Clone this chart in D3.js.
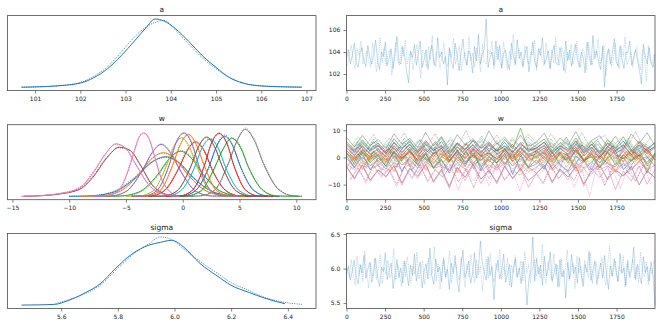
<!DOCTYPE html>
<meta charset="utf-8">
<title>Trace plot</title>
<style>
body { margin: 0; background: #fff; }
text { font-family: "DejaVu Sans", sans-serif; fill: #1a1a1a; }
.title { font-size: 7.5px; }
.axis text { font-size: 6px; font-family: "DejaVu Sans", sans-serif; fill: #1a1a1a; }
.axis line { stroke: #4d4d4d; stroke-width: 0.7; }
</style>
<svg width="660" height="327"></svg>
<script src="https://cdn.jsdelivr.net/npm/d3@7"></script>
<script>

var tab10 = ["#1f77b4", "#ff7f0e", "#2ca02c", "#d62728", "#9467bd",
             "#8c564b", "#e377c2", "#7f7f7f", "#bcbd22", "#17becf"];

// ---- posterior densities ----
var aGrid  = [100.7, 101.0, 101.5, 102.0, 102.3, 102.6, 102.9, 103.2, 103.45, 103.65, 103.85, 104.1, 104.4, 104.7, 105.0, 105.3, 105.6, 106.0, 106.5, 106.9];
var aDens1 = [0, 0.004, 0.02, 0.06, 0.14, 0.27, 0.46, 0.68, 0.87, 1.0, 0.97, 0.86, 0.67, 0.46, 0.29, 0.14, 0.06, 0.018, 0.005, 0];
var aDens2 = [0, 0.004, 0.02, 0.07, 0.16, 0.30, 0.51, 0.74, 0.88, 0.95, 0.98, 0.84, 0.63, 0.43, 0.27, 0.14, 0.06, 0.02, 0.005, 0];

var sigmaGrid  = [5.46, 5.52, 5.58, 5.62, 5.68, 5.74, 5.79, 5.85, 5.91, 5.95, 5.99, 6.03, 6.09, 6.15, 6.20, 6.26, 6.32, 6.39, 6.45];
var sigmaDens1 = [0, 0.003, 0.012, 0.06, 0.17, 0.32, 0.53, 0.75, 0.88, 0.92, 0.95, 0.86, 0.61, 0.43, 0.29, 0.19, 0.10, 0.02, null];
var sigmaDens2 = [null, null, 0.02, 0.07, 0.16, 0.30, 0.50, 0.73, 0.90, 1.0, 0.96, 0.83, 0.64, 0.47, 0.33, 0.22, 0.11, 0.04, 0.01];

// w: one x list per component, density of chain 1 (solid) and chain 2 (dotted)
var wKdeX = [
  [-10, -8.5, -6.3, -4.1, -2.8, -1.5, -0.3, 0.9, 2.9, 4.9, 6.5],
  [-9, -7.5, -5.7, -3.9, -2.8, -1.7, -0.6, 0.5, 2.3, 4.1, 5.5],
  [-7.5, -5.6, -3.9, -2.2, -1.2, -0.2, 0.8, 1.8, 3.5, 5.2, 6.5],
  [-4.5, -2.9, -1.7, -0.4, 0.4, 1.1, 1.9, 2.6, 3.9, 5.1, 6.5],
  [-8, -6.4, -5.0, -3.6, -2.7, -1.9, -1.1, -0.2, 1.2, 2.6, 4],
  [-14, -12.5, -11, -9.1, -7.9, -6.7, -5.6, -4.6, -3.8, -2.7, -1.8, -0.8, 0],
  [-8.0, -6.6, -5.6, -4.9, -4.3, -3.8, -3.45, -3.0, -2.5, -1.9, -1.2, -0.4, 1.0],
  [0, 1.5, 2.8, 4.0, 4.8, 5.5, 6.3, 7.1, 8.5, 9.8, 10.5],
  [-5, -3.8, -2.6, -1.5, -0.8, -0.1, 0.6, 1.3, 2.4, 3.6, 5],
  [-2.5, -1.4, -0.2, 1.0, 1.7, 2.4, 3.1, 3.8, 5.0, 6.2, 7.5],
  [-1.5, -0.1, 1.1, 2.3, 3.0, 3.7, 4.4, 5.1, 6.3, 7.5, 8.5],
  [-4.5, -3.2, -2.0, -0.9, -0.2, 0.5, 1.2, 1.9, 3.0, 4.2, 5.5],
  [-1, 0.3, 1.6, 2.8, 3.6, 4.3, 5.1, 5.8, 7.1, 8.3, 10.2],
  [-1.5, -0.3, 0.8, 1.9, 2.5, 3.2, 3.9, 4.5, 5.6, 6.7, 8],
  [-4.5, -3.4, -2.3, -1.2, -0.6, 0.1, 0.8, 1.4, 2.5, 3.6, 5],
  [-3, -1.7, -0.5, 0.7, 1.4, 2.1, 2.8, 3.5, 4.7, 5.9, 7.5],
  [-14.2, -12.5, -11, -9.1, -7.9, -6.8, -5.9, -5.0, -4.1, -2.9, -2.0, -1.0, -0.3]
];
var wKdeY1 = [
  [0, 0.003, 0.05, 0.28, 0.49, 0.58, 0.49, 0.28, 0.05, 0.003, 0],
  [0, 0.003, 0.06, 0.31, 0.54, 0.64, 0.54, 0.31, 0.06, 0.003, 0],
  [0, 0.003, 0.06, 0.32, 0.55, 0.66, 0.55, 0.32, 0.06, 0.003, 0],
  [0, 0.004, 0.07, 0.39, 0.67, 0.80, 0.67, 0.39, 0.07, 0.004, 0],
  [0, 0.004, 0.07, 0.37, 0.64, 0.76, 0.64, 0.37, 0.07, 0.004, 0],
  [0, 0.008, 0.03, 0.10, 0.28, 0.56, 0.72, 0.67, 0.48, 0.17, 0.05, 0.008, 0],
  [0, 0.01, 0.09, 0.33, 0.64, 0.88, 0.93, 0.86, 0.60, 0.27, 0.08, 0.01, 0],
  [0, 0.005, 0.09, 0.48, 0.82, 0.98, 0.82, 0.48, 0.09, 0.005, 0],
  [0, 0.004, 0.08, 0.42, 0.72, 0.86, 0.72, 0.42, 0.08, 0.004, 0],
  [0, 0.004, 0.08, 0.41, 0.71, 0.84, 0.71, 0.41, 0.08, 0.004, 0],
  [0, 0.004, 0.08, 0.43, 0.74, 0.88, 0.74, 0.43, 0.08, 0.004, 0],
  [0, 0.005, 0.08, 0.45, 0.76, 0.91, 0.76, 0.45, 0.08, 0.005, 0],
  [0, 0.004, 0.08, 0.42, 0.71, 0.85, 0.71, 0.42, 0.08, 0.004, 0],
  [0, 0.005, 0.08, 0.45, 0.77, 0.92, 0.77, 0.45, 0.08, 0.005, 0],
  [0, 0.005, 0.08, 0.46, 0.78, 0.93, 0.78, 0.46, 0.08, 0.005, 0],
  [0, 0.004, 0.08, 0.43, 0.73, 0.87, 0.73, 0.43, 0.08, 0.004, 0],
  [0, 0.01, 0.035, 0.12, 0.34, 0.62, 0.77, 0.70, 0.46, 0.15, 0.05, 0.008, 0]
];
var wKdeY2 = [
  [0, 0.004, 0.06, 0.30, 0.50, 0.57, 0.48, 0.27, 0.05, 0.004, 0],
  [0, 0.004, 0.07, 0.33, 0.55, 0.63, 0.52, 0.30, 0.06, 0.003, 0],
  [0, 0.003, 0.05, 0.30, 0.54, 0.67, 0.57, 0.33, 0.06, 0.003, 0],
  [0, 0.004, 0.08, 0.41, 0.69, 0.79, 0.65, 0.38, 0.07, 0.004, 0],
  [0, 0.004, 0.07, 0.36, 0.63, 0.77, 0.66, 0.38, 0.07, 0.004, 0],
  [0, 0.01, 0.035, 0.11, 0.30, 0.57, 0.71, 0.66, 0.47, 0.16, 0.05, 0.008, 0],
  [0, 0.01, 0.10, 0.35, 0.66, 0.89, 0.92, 0.84, 0.58, 0.26, 0.08, 0.01, 0],
  [0, 0.005, 0.08, 0.46, 0.82, 1.00, 0.84, 0.50, 0.10, 0.006, 0],
  [0, 0.004, 0.08, 0.43, 0.74, 0.85, 0.70, 0.41, 0.08, 0.004, 0],
  [0, 0.004, 0.08, 0.40, 0.70, 0.85, 0.72, 0.42, 0.08, 0.004, 0],
  [0, 0.004, 0.08, 0.42, 0.75, 0.90, 0.75, 0.42, 0.08, 0.004, 0],
  [0, 0.005, 0.09, 0.46, 0.78, 0.90, 0.74, 0.44, 0.08, 0.005, 0],
  [0, 0.004, 0.07, 0.41, 0.70, 0.86, 0.73, 0.43, 0.09, 0.005, 0],
  [0, 0.005, 0.08, 0.44, 0.76, 0.93, 0.78, 0.46, 0.08, 0.005, 0],
  [0, 0.005, 0.08, 0.45, 0.79, 0.92, 0.76, 0.45, 0.08, 0.005, 0],
  [0, 0.004, 0.08, 0.44, 0.74, 0.86, 0.72, 0.43, 0.08, 0.004, 0],
  [0, 0.012, 0.04, 0.13, 0.36, 0.63, 0.76, 0.69, 0.45, 0.15, 0.05, 0.008, 0]
];

var nDraws = 2000;

var aTrace1 = [
  103.4, 104.2, 102.9, 103.7, 104.8, 103.0, 102.6, 103.9, 104.4, 103.2,
  102.7, 104.6, 103.5, 102.9, 103.8, 105.1, 103.3, 102.4, 104.0, 103.6,
  104.9, 102.8, 103.4, 104.3, 102.5, 103.7, 105.4, 103.1, 102.9, 104.5,
  103.6, 102.2, 101.2, 104.1, 103.5, 104.7, 102.8, 103.9, 105.0, 102.6,
  103.3, 104.2, 102.4, 103.8, 104.6, 103.0, 102.7, 105.3, 103.5, 104.0,
  102.9, 103.6, 101.0, 104.4, 103.1, 102.5, 104.8, 103.7, 102.3, 103.9,
  105.2, 103.4, 102.8, 104.1, 103.6, 102.1, 104.5, 103.2, 105.6, 102.9,
  103.8, 104.3, 107.0, 102.6, 103.5, 104.0, 102.8, 105.0, 103.3, 104.6,
  102.5, 103.9, 104.2, 103.0, 102.4, 104.8, 103.6, 102.9, 105.1, 103.4,
  104.0, 102.7, 103.8, 104.5, 102.2, 103.5, 104.9, 103.1, 102.6, 104.3,
  103.7, 105.3, 102.9, 103.4, 104.1, 102.5, 103.9, 104.6, 103.0, 102.8,
  104.4, 103.6, 102.3, 105.0, 103.2, 104.2, 102.7, 103.8, 104.7, 103.3,
  102.6, 104.0, 103.5, 102.1, 104.9, 103.7, 102.8, 105.5, 103.4, 104.1,
  103.0, 102.4, 104.5, 100.8, 103.6, 104.3, 102.9, 103.8, 105.2, 103.1,
  102.7, 104.6, 103.3, 102.5, 104.0, 103.9, 105.0, 102.8, 103.5, 104.2,
  103.2, 102.3, 101.1, 104.7, 103.6, 102.9, 104.4, 103.0, 102.6, 103.8];
var aTrace2 = [
  102.8, 103.9, 104.6, 103.1, 102.5, 104.3, 103.7, 105.0, 102.9, 103.5,
  104.1, 103.3, 102.6, 104.8, 103.9, 102.2, 103.6, 105.3, 103.0, 104.4,
  102.7, 103.8, 104.2, 101.9, 103.4, 104.9, 103.2, 102.8, 104.5, 103.6,
  105.1, 102.9, 103.7, 104.0, 102.4, 103.5, 104.7, 103.1, 101.6, 104.2,
  103.8, 102.6, 104.5, 103.3, 105.5, 102.8, 103.9, 104.1, 102.5, 103.6,
  104.8, 103.0, 102.7, 104.3, 103.5, 105.2, 102.9, 103.7, 104.6, 102.3,
  103.4, 104.0, 102.8, 105.4, 103.2, 103.9, 102.6, 104.4, 103.6, 102.2,
  104.7, 103.1, 102.9, 104.2, 103.8, 105.0, 102.5, 103.4, 104.5, 103.0,
  102.7, 104.9, 103.6, 102.4, 104.1, 103.3, 105.6, 102.8, 103.9, 104.3,
  103.1, 102.6, 104.6, 103.5, 102.9, 104.0, 103.7, 105.1, 102.3, 103.8,
  104.4, 103.2, 102.7, 104.8, 103.6, 102.5, 104.2, 103.0, 105.3, 103.4,
  102.8, 104.5, 103.9, 102.1, 104.0, 103.3, 104.7, 102.9, 103.6, 105.0,
  103.2, 102.6, 104.3, 103.8, 102.4, 104.9, 103.5, 102.8, 104.1, 103.7,
  105.2, 102.9, 103.4, 104.6, 101.8, 103.9, 104.2, 102.7, 103.5, 104.8,
  103.0, 102.5, 104.4, 103.6, 105.4, 102.8, 103.3, 104.0, 102.6, 103.9,
  104.5, 103.1, 102.4, 104.2, 103.7, 101.3, 104.6, 103.2, 102.9, 103.8];

var sigmaTrace1 = [
  5.91, 6.04, 5.83, 5.97, 6.12, 5.88, 5.78, 6.06, 5.94, 6.19,
  5.86, 5.99, 6.09, 5.80, 5.93, 6.15, 5.89, 5.74, 6.02, 5.96,
  6.23, 5.84, 5.97, 6.08, 5.71, 5.92, 6.13, 5.87, 6.01, 5.79,
  6.11, 5.95, 5.75, 6.05, 5.90, 6.21, 5.82, 5.98, 6.10, 5.72,
  5.96, 6.07, 5.85, 6.30, 5.90, 5.77, 6.14, 5.95, 6.02, 5.81,
  6.16, 5.88, 5.99, 5.70, 6.08, 5.93, 6.19, 5.84, 5.66, 6.04,
  6.27, 5.87, 5.96, 6.11, 5.79, 5.92, 6.23, 5.86, 6.00, 6.40,
  6.09, 5.94, 5.83, 6.17, 5.90, 6.03, 5.55, 5.97, 6.12, 5.85,
  5.98, 6.21, 5.80, 5.93, 6.06, 5.73, 5.99, 6.14, 5.88, 6.01,
  5.78, 6.10, 5.91, 5.47, 5.84, 5.96, 6.46, 5.82, 6.15, 5.92,
  6.05, 5.76, 6.18, 5.89, 5.99, 6.24, 5.81, 5.94, 6.07, 5.73,
  6.13, 5.88, 5.97, 5.57, 6.09, 5.85, 6.20, 5.93, 6.02, 5.79,
  6.16, 5.90, 5.74, 6.06, 5.95, 6.25, 5.83, 5.98, 6.11, 5.77,
  5.96, 6.08, 5.86, 6.19, 5.92, 5.70, 6.04, 5.89, 6.14, 5.95,
  5.81, 6.22, 5.93, 6.01, 5.75, 6.12, 5.87, 5.99, 6.31, 5.84,
  6.06, 5.91, 5.78, 6.17, 5.94, 6.03, 5.82, 6.10, 5.89, 5.47];
var sigmaTrace2 = [
  6.00, 5.87, 6.13, 5.92, 5.76, 6.18, 5.90, 6.05, 5.81, 6.26,
  5.94, 5.72, 6.08, 5.89, 6.15, 5.84, 5.99, 6.21, 5.78, 6.02,
  5.91, 6.12, 5.86, 5.97, 6.29, 5.83, 6.06, 5.93, 5.74, 6.10,
  5.88, 6.17, 5.96, 5.80, 6.04, 5.91, 6.24, 5.85, 5.98, 6.11,
  5.77, 6.00, 6.15, 5.89, 5.94, 6.32, 5.82, 6.07, 5.70, 5.97,
  6.12, 5.86, 6.03, 6.26, 5.79, 5.99, 6.09, 5.92, 5.83, 6.17,
  5.95, 5.73, 6.06, 5.88, 6.20, 5.97, 5.80, 6.13, 5.91, 6.04,
  5.68, 5.99, 6.14, 5.86, 6.22, 5.93, 5.81, 6.08, 5.96, 6.28,
  5.84, 6.02, 5.90, 6.16, 5.75, 6.05, 5.94, 6.19, 5.87, 5.98,
  6.11, 5.82, 6.25, 5.93, 6.06, 5.79, 6.00, 6.13, 5.89, 6.03,
  5.86, 6.35, 5.92, 5.78, 6.10, 5.97, 5.84, 6.21, 5.90, 6.05,
  5.74, 6.14, 5.88, 6.00, 6.27, 5.83, 5.96, 6.08, 5.71, 6.18,
  5.93, 6.04, 5.81, 6.12, 5.95, 5.87, 6.23, 5.78, 6.01, 6.09,
  5.85, 5.98, 6.16, 5.90, 5.76, 6.06, 6.33, 5.89, 5.97, 6.11,
  5.82, 6.02, 5.94, 6.19, 5.73, 6.07, 5.91, 5.99, 6.14, 5.86,
  6.03, 5.80, 6.24, 5.95, 5.88, 6.10, 5.77, 6.01, 5.92, 6.13];

var wTrace1 = [
  [0.8,-3.9,1.6,-4.6,-0.2,-3.1,2.4,-5.3,0.3,-2.6,1.9,-4.1,-0.7,-5.8,1.2,-3.4,2.9,-4.8,0.1,-2.2,1.5,-6.2,0.6,-3.7,-0.9,-4.3,2.1,-2.7,-5.0,0.5,-1.8,1.7,-3.9,-0.4,2.6,-4.5,-1.2,0.9,-5.7,1.3],
  [-3.8,0.6,-4.5,1.3,-2.9,-0.1,-5.2,0.9,-3.3,1.8,-4.7,-0.6,-3.0,1.0,-5.6,0.4,-2.5,1.5,-4.1,-0.3,-3.6,2.1,-4.9,0.2,-2.2,1.7,-4.3,-0.8,0.9,-5.1,-1.4,1.4,-3.7,0.0,-5.5,1.1,-2.6,-0.2,-4.4,0.7],
  [1.9,-2.6,2.6,-1.9,0.8,-3.4,2.2,-1.3,3.1,-2.9,1.3,-3.9,0.4,-1.7,2.8,-2.4,1.6,-3.1,0.5,-2.0,3.4,-1.5,1.1,-3.6,2.5,-0.6,-3.3,1.7,-2.1,3.0,-1.0,0.3,-3.8,2.1,-2.7,0.9,-1.4,2.7,-3.2,1.4],
  [2.6,-0.5,3.0,0.1,2.2,-1.0,3.4,-0.2,1.9,-0.8,2.8,0.3,3.6,-1.3,2.4,-0.1,3.1,0.4,1.7,-0.7,2.9,-0.4,3.3,0.2,1.4,3.5,-0.6,2.0,0.7,3.8,-1.2,2.6,0.0,3.2,1.0,-0.5,2.7,0.4,3.3,-0.9],
  [-0.3,-3.6,0.2,-3.0,-1.0,-4.3,0.6,-2.8,-0.6,-3.9,0.1,-3.3,-1.2,-4.8,-0.1,-2.6,0.9,-3.5,-0.8,-4.0,0.4,-3.1,-0.5,-3.7,-2.4,0.5,-4.1,-1.5,0.1,-3.8,-0.9,-4.5,0.7,-2.2,-3.4,0.2,-4.7,-1.3,0.4,-3.2],
  [-3.4,-7.6,-2.8,-8.3,-4.6,-7.0,-3.1,-9.4,-4.0,-6.9,-2.6,-8.8,-4.4,-10.6,-3.7,-7.3,-2.4,-8.0,-4.8,-9.1,-3.2,-7.7,-4.1,-8.6,-5.9,-2.9,-8.9,-4.3,-7.2,-3.5,-9.7,-5.0,-2.7,-8.1,-4.6,-6.8,-3.3,-10.1,-4.9,-7.5],
  [-2.2,-4.6,-1.7,-4.1,-2.9,-5.2,-1.9,-4.4,-2.5,-5.6,-1.4,-4.0,-3.0,-4.9,-2.0,-4.3,-1.6,-5.0,-2.7,-4.7,-1.8,-4.2,-2.4,-5.3,-3.6,-1.5,-4.8,-2.6,-5.5,-2.1,-3.9,-1.8,-4.5,-3.1,-5.1,-2.3,-4.0,-1.6,-4.6,-2.8],
  [7.4,3.9,8.1,4.4,6.6,3.3,8.7,4.9,7.0,3.6,9.3,4.2,7.7,3.0,8.4,4.6,6.9,3.5,9.8,4.8,7.5,3.8,8.2,4.1,5.6,8.9,3.4,7.2,4.5,9.5,3.7,6.3,8.0,4.0,7.8,3.2,8.6,5.1,9.1,4.3],
  [1.3,-1.6,1.9,-1.1,0.6,-2.2,1.6,-0.9,2.3,-1.7,0.9,-2.5,1.4,-1.2,2.0,-1.9,0.7,-1.4,1.8,-2.0,1.1,-1.5,2.4,-1.0,-0.3,1.7,-2.3,0.8,-1.3,2.2,-0.6,1.2,-2.0,0.4,-1.6,2.5,-0.9,1.5,-2.4,0.9],
  [3.8,0.9,4.5,1.4,3.2,0.3,4.1,1.7,4.8,0.7,3.5,1.2,4.3,0.1,3.9,1.5,4.7,0.8,3.3,1.9,4.4,0.5,3.6,1.1,2.6,4.6,0.4,3.4,1.3,5.1,1.8,3.7,0.6,4.0,2.2,4.8,0.9,3.5,1.6,4.2],
  [5.2,2.2,5.8,2.7,4.6,1.6,5.5,2.9,6.3,2.0,4.9,2.5,5.9,1.4,5.3,2.8,6.1,2.1,4.7,2.4,5.6,1.8,5.0,2.6,3.5,5.7,1.9,4.4,2.6,6.2,2.3,4.9,1.6,5.4,3.2,6.0,2.1,4.6,2.7,5.5],
  [1.9,-0.9,2.5,-0.4,1.4,-1.5,2.2,-0.2,2.9,-1.1,1.6,-0.7,2.4,-1.7,1.8,-0.5,2.7,-1.0,1.3,-0.3,2.3,-1.3,2.0,-0.6,0.6,2.6,-1.2,1.7,-0.4,2.8,-1.4,1.2,-0.8,2.3,0.2,-1.6,2.1,-0.5,2.7,-1.0],
  [5.9,2.7,6.5,3.2,5.3,2.2,6.9,3.5,5.7,2.5,6.2,3.0,7.3,2.0,5.4,2.9,6.4,3.3,5.8,2.4,6.7,3.1,10.8,2.6,4.6,6.8,2.4,5.5,3.1,7.2,2.8,5.9,2.1,6.5,3.6,7.6,2.6,6.1,3.3,5.4],
  [4.6,1.8,5.1,2.3,4.2,1.3,5.4,2.0,4.8,1.6,5.7,2.5,4.4,1.1,5.0,2.2,4.7,1.5,5.3,2.4,4.1,1.9,5.5,2.1,3.4,5.5,1.4,4.3,2.1,5.9,1.7,4.9,1.2,5.2,2.6,4.5,1.0,5.6,2.3,4.0],
  [1.5,-1.2,2.0,-0.7,1.1,-1.8,1.8,-0.5,2.4,-1.4,1.2,-2.1,1.7,-0.9,2.2,-1.6,0.9,-1.1,2.5,-1.9,1.4,-0.6,1.9,-1.3,0.3,2.1,-1.7,1.3,-0.8,2.4,-1.5,0.9,-2.0,1.8,-0.4,2.2,-1.3,1.0,-1.8,1.6],
  [3.5,0.6,4.1,1.1,3.0,0.0,4.4,0.9,3.7,0.3,4.7,1.3,3.3,-0.2,4.0,0.8,3.6,0.4,4.5,1.2,3.1,0.1,3.9,0.7,2.4,4.3,0.2,3.4,1.0,4.9,0.5,3.7,-0.3,4.1,1.5,3.2,0.3,4.5,1.2,3.6],
  [-3.5,-8.1,-2.7,-8.9,-4.6,-7.3,-3.0,-10.2,-4.2,-7.7,-2.4,-9.3,-4.9,-11.4,-3.6,-8.5,-2.9,-9.6,-4.4,-9.7,-3.2,-7.9,-4.0,-11.0,-6.1,-3.0,-9.4,-4.6,-8.2,-2.6,-10.6,-4.1,-7.4,-3.4,-11.8,-5.0,-8.7,-3.1,-9.9,-4.4]
];
var wTrace2 = [
  [-4.4,1.1,-2.8,2.2,-5.1,0.4,-3.6,1.8,-4.9,0.9,-2.3,3.1,-5.5,-0.4,-3.2,2.0,-4.2,0.7,-6.0,1.4,-2.9,2.6,-4.6,-0.1,2.3,-3.5,-0.6,-5.2,1.6,-2.4,0.2,-4.7,2.8,-1.4,-3.8,1.0,-5.9,0.4,-2.1,1.8],
  [0.9,-3.4,1.6,-4.2,-0.2,-5.0,0.5,-2.7,1.9,-3.9,-0.8,-4.8,1.2,-3.1,0.3,-5.4,1.4,-2.4,-0.5,-4.4,0.8,-3.2,1.7,-4.0,-4.6,0.3,-1.9,1.8,-3.5,-0.5,-5.3,1.0,-2.8,0.6,-4.1,-1.1,1.5,-3.0,0.1,-4.8],
  [-2.3,1.4,-3.7,2.4,-1.1,3.0,-2.8,0.7,-3.3,1.8,-1.6,2.9,-4.2,1.0,-2.2,2.3,-3.0,0.2,-1.8,3.2,-2.6,1.5,-3.5,0.9,0.4,-2.9,2.6,-1.2,1.1,-3.6,2.0,-2.4,0.6,-1.7,3.3,-3.1,1.2,-0.8,2.4,-2.0],
  [-0.3,2.7,-0.9,2.0,0.5,3.5,-0.6,2.5,0.0,3.2,-1.1,2.1,0.6,2.9,-0.4,3.7,-0.2,2.3,0.3,3.0,-0.9,2.6,0.1,3.4,2.2,-0.5,3.1,0.8,-1.0,2.8,0.2,3.6,-0.3,1.9,3.4,0.0,2.4,-0.8,3.0,0.5],
  [-3.4,-0.2,-4.1,0.5,-2.9,-0.7,-3.8,0.3,-4.6,-0.4,-2.7,0.8,-3.6,-0.9,-4.4,0.0,-3.0,-0.5,-3.9,0.6,-2.6,-1.1,-4.2,0.2,-1.6,-4.3,0.4,-2.5,-0.6,-3.7,0.9,-4.8,-1.0,-2.9,0.3,-4.0,-1.8,0.6,-3.3,-0.4],
  [-7.9,-3.8,-8.7,-2.9,-6.8,-4.3,-9.8,-3.3,-7.4,-2.7,-8.5,-4.5,-7.1,-3.0,-9.0,-4.2,-11.2,-3.6,-7.8,-2.5,-8.2,-4.7,-6.6,-3.5,-5.4,-9.3,-3.1,-7.6,-4.9,-8.4,-2.8,-6.9,-4.0,-10.3,-3.4,-7.2,-5.1,-8.8,-2.9,-6.4],
  [-4.5,-2.1,-5.0,-1.6,-4.2,-2.8,-5.4,-1.9,-4.0,-2.4,-4.8,-1.5,-4.4,-2.6,-5.7,-2.0,-4.1,-1.8,-4.9,-2.3,-4.3,-1.7,-5.1,-2.5,-3.3,-5.2,-2.2,-4.6,-1.7,-3.8,-5.5,-2.7,-4.3,-1.9,-4.9,-3.0,-2.1,-4.4,-2.6,-5.0],
  [3.7,7.6,4.3,8.5,3.2,7.1,4.7,9.0,3.9,6.8,4.4,8.8,3.4,7.3,4.1,10.0,3.6,7.9,4.5,8.3,3.1,7.2,4.0,8.6,6.0,3.5,8.7,4.6,7.4,3.0,9.2,4.2,6.5,8.1,3.8,7.0,4.4,9.6,3.6,7.7],
  [-1.8,1.2,-2.3,0.8,-1.3,2.1,-1.6,1.5,-2.6,0.5,-1.1,1.7,-2.1,1.0,-1.5,2.2,-1.9,0.9,-1.2,1.6,-2.4,0.6,-1.7,1.3,0.3,-1.4,1.9,-2.2,0.7,-0.9,2.3,-1.7,1.0,-2.5,0.5,-1.2,2.0,-0.6,1.4,-1.9],
  [1.0,3.9,0.4,4.6,1.6,3.4,0.6,4.2,1.3,5.0,0.8,3.7,1.8,4.4,0.2,3.6,1.1,4.9,0.7,3.8,1.5,4.1,0.9,4.5,3.1,0.7,4.3,1.9,5.2,1.2,3.6,0.3,4.7,2.0,3.9,1.0,4.4,0.8,3.3,1.7],
  [2.3,5.4,1.7,6.0,2.8,4.8,1.9,5.7,2.5,6.4,2.1,5.1,3.0,5.5,1.5,5.0,2.6,6.2,2.0,5.3,2.9,4.9,1.8,5.8,4.2,1.8,5.6,2.9,6.5,2.2,4.7,1.5,5.9,3.0,5.2,2.4,6.1,1.9,4.5,2.8],
  [-0.8,2.1,-1.4,1.6,-0.3,2.6,-1.0,1.9,-0.6,2.8,-1.6,1.5,-0.2,2.3,-1.2,2.0,-0.7,2.5,-1.5,1.7,-0.4,2.9,-0.9,1.4,0.9,-1.3,2.4,-0.6,1.8,-1.7,2.7,-0.2,1.3,-1.1,2.2,-0.8,2.9,-1.5,1.6,-0.4],
  [2.8,6.1,2.3,6.8,3.4,5.6,2.6,7.1,3.0,6.3,2.1,5.9,3.6,6.6,2.4,5.5,3.2,7.0,2.7,6.2,2.0,6.5,3.3,7.4,5.2,2.5,6.9,3.1,7.5,2.2,5.8,3.4,6.6,2.0,6.3,3.0,7.1,2.7,5.6,3.5],
  [1.7,4.9,2.2,5.6,1.4,4.5,2.6,5.2,1.2,4.3,2.0,5.8,1.6,4.7,2.4,5.1,1.0,4.6,2.3,5.4,1.5,4.8,2.1,5.0,3.8,1.5,5.3,2.2,5.9,1.3,4.6,2.5,5.1,1.1,4.4,2.0,5.7,1.6,4.9,2.7],
  [-1.4,1.3,-2.0,0.9,-1.0,2.1,-1.5,1.6,-2.3,0.7,-0.8,1.9,-1.7,1.1,-1.2,2.3,-1.9,0.8,-1.1,1.7,-2.2,1.0,-1.6,2.0,-0.2,1.8,-1.6,2.2,-0.9,1.4,-2.1,0.6,-1.3,2.4,-0.7,1.2,-1.9,1.9,-1.0,0.8],
  [0.7,3.8,0.2,4.3,1.0,3.2,-0.1,4.6,0.5,3.6,1.4,4.0,0.3,3.4,0.9,4.8,0.0,3.9,1.1,3.3,0.4,4.2,0.8,3.7,2.9,0.4,4.4,1.3,3.8,-0.2,4.6,1.0,3.5,0.6,4.2,1.6,4.9,0.2,3.3,1.1],
  [-8.4,-3.9,-9.6,-2.8,-7.5,-4.5,-10.8,-3.3,-8.0,-2.5,-9.1,-4.7,-7.6,-3.1,-12.1,-4.1,-8.8,-3.4,-10.4,-2.6,-8.6,-4.8,-12.3,-3.7,-5.5,-9.8,-3.6,-8.1,-2.9,-10.9,-4.3,-14.3,-3.0,-9.2,-4.6,-11.5,-3.3,-8.4,-2.7,-10.1]
];
// order in which the w chains are laid down in the trace panel (last on top)
var wTraceOrder = [0, 4, 5, 7, 8, 9, 10, 14, 15, 1, 11, 2, 12, 3, 13, 6, 16];

// ---- tick labels ----
var aTicks = [101, 102, 103, 104, 105, 106, 107];
var wTicks = [-15, -10, -5, 0, 5, 10];
var sigmaTicks = [5.6, 5.8, 6.0, 6.2, 6.4];
var drawTicks = [0, 250, 500, 750, 1000, 1250, 1500, 1750];
var aTraceTicks = [102, 104, 106];
var wTraceTicks = [-10, 0, 10];
var sigmaTraceTicks = [5.5, 6.0, 6.5];

// ---- layout ----
var svg = d3.select("svg");
var colX = [7.5, 346.5], rowY = [15.6, 124.7, 233.5];
var pw = 308.5, ph = 75;

function padded(lo, hi) {
  var r = hi - lo;
  return [lo - 0.05 * r, hi + 0.05 * r];
}

function panel(col, row, title) {
  var g = svg.append("g").attr("transform", "translate(" + colX[col] + "," + rowY[row] + ")");
  g.append("text").attr("class", "title")
    .attr("x", pw / 2).attr("y", -4)
    .attr("text-anchor", "middle")
    .text(title);
  return g;
}

function frame(g) {
  g.append("rect")
    .attr("width", pw).attr("height", ph)
    .attr("fill", "none").attr("stroke", "#4d4d4d").attr("stroke-width", 0.8);
}

function kdePanel(row, title, curves, ticks, fmt) {
  var g = panel(0, row, title);
  var allX = [], maxY = 0;
  curves.forEach(function(c) {
    allX = allX.concat(c.xs);
    maxY = Math.max(maxY, d3.max(c.ys));
  });
  var x = d3.scaleLinear().domain(padded(d3.min(allX), d3.max(allX))).range([0, pw]);
  var y = d3.scaleLinear().domain(padded(0, maxY)).range([ph, 0]);
  var line = d3.line()
    .defined(function(d) { return d[1] != null; })
    .x(function(d) { return x(d[0]); })
    .y(function(d) { return y(d[1]); })
    .curve(d3.curveMonotoneX);

  curves.forEach(function(c) {
    g.append("path")
      .datum(c.xs.map(function(v, i) { return [v, c.ys[i]]; }))
      .attr("d", line)
      .attr("fill", "none")
      .attr("stroke", c.color)
      .attr("stroke-width", c.dotted ? 0.9 : 1)
      .attr("stroke-dasharray", c.dotted ? "1,1.3" : null);
  });

  var ax = g.append("g").attr("class", "axis")
    .attr("transform", "translate(0," + ph + ")")
    .call(d3.axisBottom(x).tickValues(ticks).tickFormat(fmt).tickSize(3).tickPadding(3.2));
  ax.select(".domain").remove();
  frame(g);
}

function tracePanel(row, title, lines, ticks, fmt) {
  var g = panel(1, row, title);
  var all = [];
  lines.forEach(function(l) { all = all.concat(l.vals); });
  var x = d3.scaleLinear().domain([0, nDraws - 1]).range([0, pw]);
  var y = d3.scaleLinear().domain(padded(d3.min(all), d3.max(all))).range([ph, 0]);

  lines.forEach(function(l) {
    var n = l.vals.length;
    // chain 1 spans the full run, chain 2 is read half a step later
    var pos = l.dotted
      ? l.vals.map(function(v, i) { return (i + 0.5) * (nDraws - 1) / n; })
      : l.vals.map(function(v, i) { return i * (nDraws - 1) / (n - 1); });
    var line = d3.line()
      .x(function(d, i) { return x(pos[i]); })
      .y(function(d) { return y(d); });
    g.append("path")
      .datum(l.vals)
      .attr("d", line)
      .attr("fill", "none")
      .attr("stroke", l.color)
      .attr("stroke-width", l.width)
      .attr("stroke-opacity", l.opacity)
      .attr("stroke-dasharray", l.dotted ? "1,0.8" : null);
  });

  var ax = g.append("g").attr("class", "axis")
    .attr("transform", "translate(0," + ph + ")")
    .call(d3.axisBottom(x).tickValues(drawTicks).tickFormat(d3.format("d")).tickSize(3).tickPadding(3.2));
  ax.select(".domain").remove();
  var ay = g.append("g").attr("class", "axis")
    .call(d3.axisLeft(y).tickValues(ticks).tickFormat(fmt).tickSize(3).tickPadding(3.2));
  ay.select(".domain").remove();
  frame(g);
}

// ---- a ----
kdePanel(0, "a", [
  { xs: aGrid, ys: aDens1, color: tab10[0], dotted: false },
  { xs: aGrid, ys: aDens2, color: tab10[0], dotted: true }
], aTicks, d3.format("d"));

tracePanel(0, "a", [
  { vals: aTrace1, color: tab10[0], dotted: false, opacity: 0.42, width: 0.65 },
  { vals: aTrace2, color: tab10[0], dotted: true, opacity: 0.42, width: 0.65 }
], aTraceTicks, d3.format("d"));

// ---- w ----
var wCurves = [], wLines = [];
wKdeX.forEach(function(xs, k) {
  var col = tab10[k % 10];
  wCurves.push({ xs: xs, ys: wKdeY1[k], color: col, dotted: false });
  wCurves.push({ xs: xs, ys: wKdeY2[k], color: col, dotted: true });
});
wTraceOrder.forEach(function(k) {
  var col = tab10[k % 10];
  wLines.push({ vals: wTrace1[k], color: col, dotted: false, opacity: 0.62, width: 0.9 });
  wLines.push({ vals: wTrace2[k], color: col, dotted: true, opacity: 0.62, width: 0.9 });
});
kdePanel(1, "w", wCurves, wTicks, d3.format("d"));
tracePanel(1, "w", wLines, wTraceTicks, d3.format("d"));

// ---- sigma ----
kdePanel(2, "sigma", [
  { xs: sigmaGrid, ys: sigmaDens1, color: tab10[0], dotted: false },
  { xs: sigmaGrid, ys: sigmaDens2, color: tab10[0], dotted: true }
], sigmaTicks, d3.format(".1f"));

tracePanel(2, "sigma", [
  { vals: sigmaTrace1, color: tab10[0], dotted: false, opacity: 0.42, width: 0.65 },
  { vals: sigmaTrace2, color: tab10[0], dotted: true, opacity: 0.42, width: 0.65 }
], sigmaTraceTicks, d3.format(".1f"));

</script>
